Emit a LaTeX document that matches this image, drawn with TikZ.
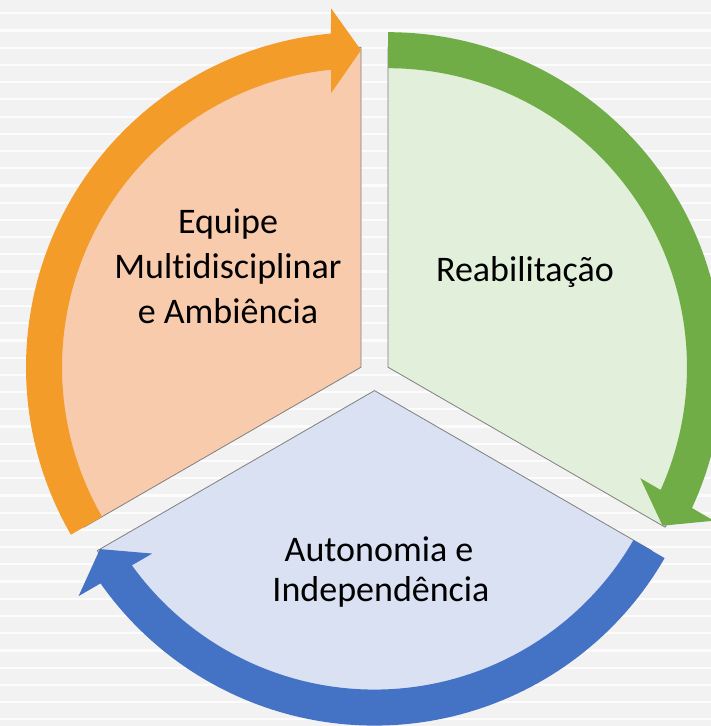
\documentclass[tikz,border=0pt]{standalone}
\usepackage{fontspec}
\setmainfont{Carlito}[RawFeature={-liga;-clig;-calt;-dlig}]
\usetikzlibrary{calc}
\definecolor{bgc}{HTML}{F2F2F3}
\definecolor{stripec}{HTML}{FCFCFD}
\definecolor{orarrow}{HTML}{F39C2A}
\definecolor{orfill}{HTML}{F8CBAD}
\definecolor{grarrow}{HTML}{70AD47}
\definecolor{grfill}{HTML}{E2EFDA}
\definecolor{blarrow}{HTML}{4472C4}
\definecolor{blfill}{HTML}{D9E1F2}
\definecolor{outl}{HTML}{7F7F7F}
\newcommand\cycarrow[4]{%
 \fill[#4] ($(#1)+(#2:335)$) arc[start angle=#2, end angle={#3+5.14}, radius=335]
   -- ($(#1)+(#3:359)+({#3+90}:30)$)
   -- ($(#1)+(#3:317)$)
   -- ($(#1)+(#3:274)+({#3+90}:30)$)
   -- ($(#1)+({#3+5.76}:299)$)
   arc[start angle={#3+5.76}, end angle=#2, radius=299] -- cycle;}
\begin{document}
\begin{tikzpicture}[x=1pt,y=1pt,
  sector/.style={draw=outl, line width=0.8pt, line join=miter},
  lbl/.style={anchor=base, inner sep=0pt, font=\fontsize{36}{44}\selectfont, text=black}]
\useasboundingbox (0,0) rectangle (711,726);
\fill[bgc] (0,0) rectangle (711,726);
\foreach \k in {0,...,41} {
  \fill[stripec] (0,{726-13.3-17.22*\k-1.1}) rectangle (711,{726-13.3-17.22*\k+1.1});
}
\coordinate (O) at (361,358.8);
\coordinate (G) at (388,358.8);
\coordinate (B) at (374.5,335.4);
% sectors
\filldraw[sector, fill=orfill] (O) -- ++(90:320) arc[start angle=90, end angle=210, radius=320] -- cycle;
\filldraw[sector, fill=grfill] (G) -- ++(-30:320) arc[start angle=-30, end angle=90, radius=320] -- cycle;
\filldraw[sector, fill=blfill] (B) -- ++(210:320) arc[start angle=210, end angle=330, radius=320] -- cycle;
% arrows
\cycarrow{O}{210}{90}{orarrow}
\cycarrow{G}{90}{-30}{grarrow}
\cycarrow{B}{-30}{-150}{blarrow}
% labels
\node[lbl] (t1) at (228,492) {Equipe};
\node[lbl] (t2) at (228,447.5) {Multidisciplinar};
\node[lbl] (t3) at (228,402) {e Ambiência};
\node[lbl] (t4) at (525,444) {Reabilitação};
\node[lbl] (t5) at (379,164) {Autonomia e};
\node[lbl] (t6) at (381,124) {Independência};
\end{tikzpicture}
\end{document}
